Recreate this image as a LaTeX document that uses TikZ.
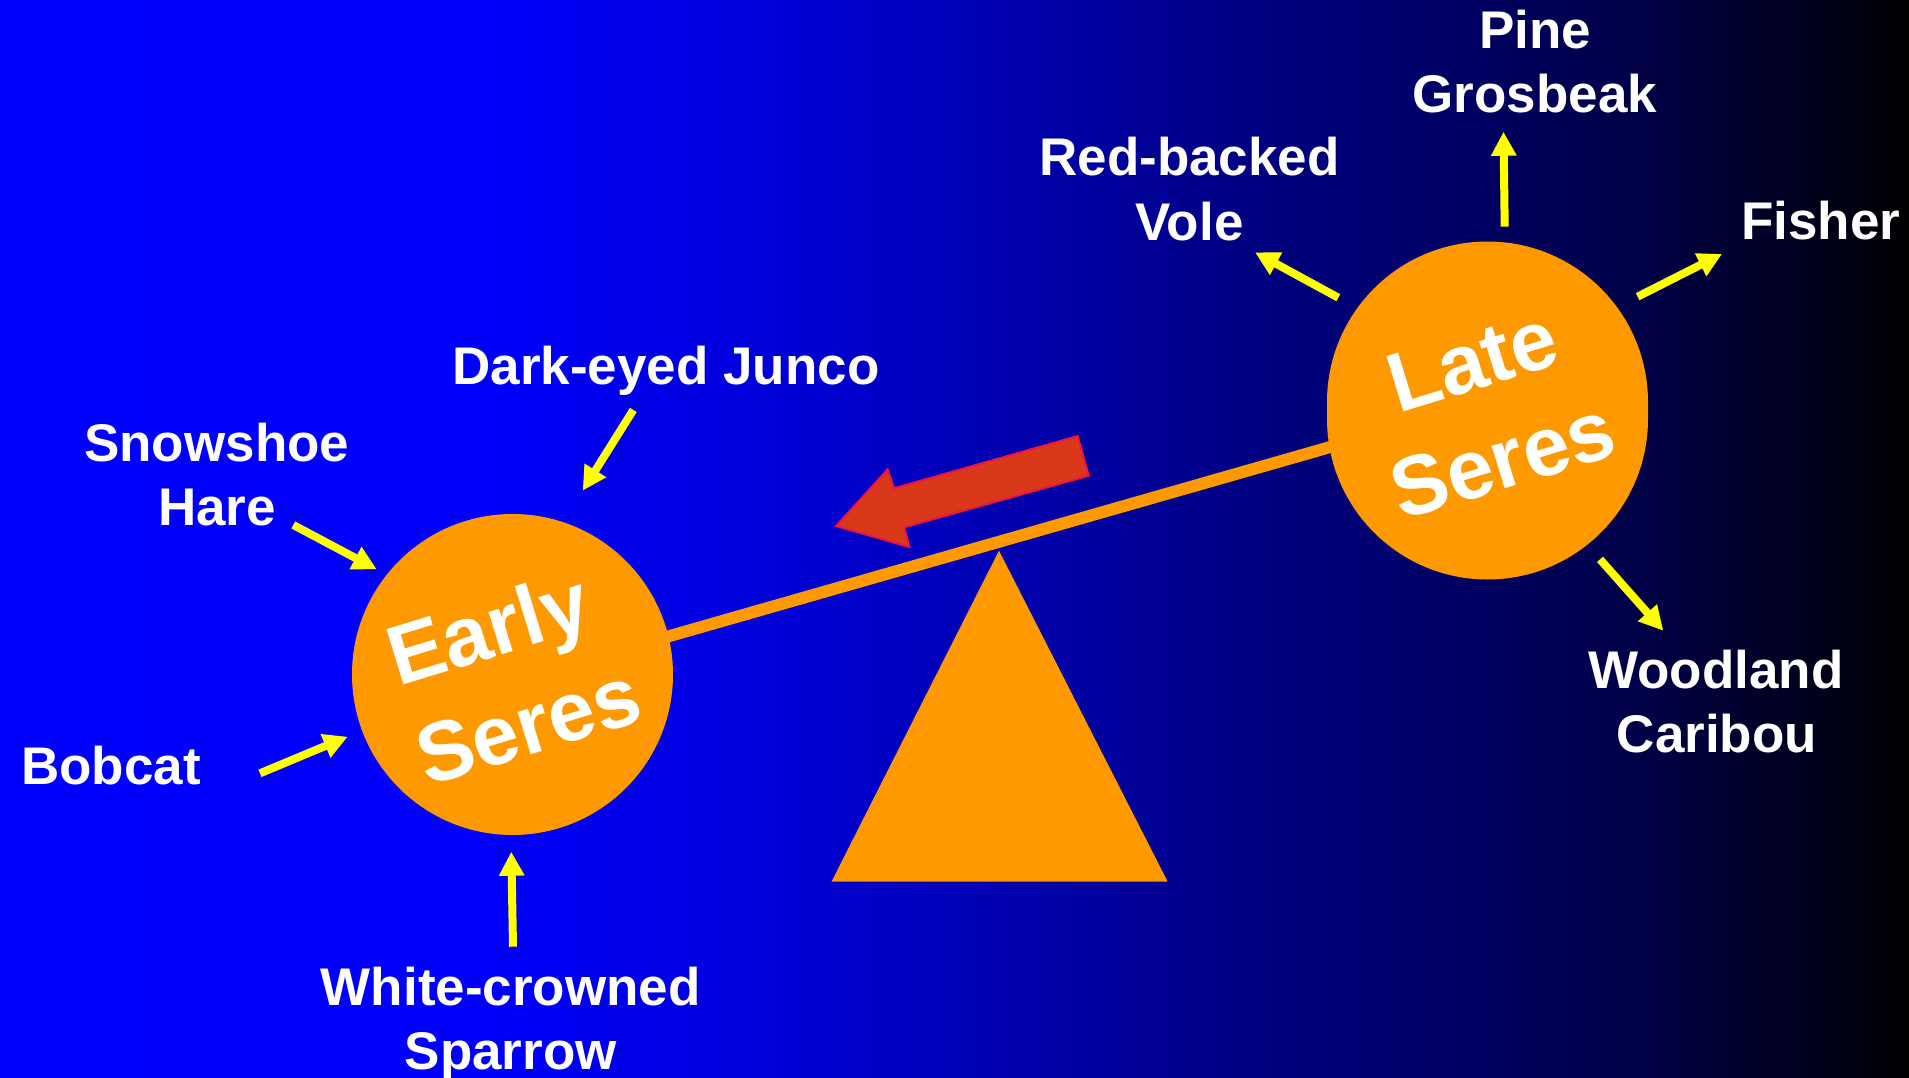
\documentclass[tikz,border=0pt]{standalone}
\usepackage{fontspec}
\setmainfont{Liberation Sans}
\usetikzlibrary{arrows.meta}
\pgfdeclarelayer{bg}
\pgfdeclarelayer{mid}
\pgfsetlayers{bg,mid,main}
\definecolor{seesaw}{RGB}{255,153,0}
\definecolor{pointer}{RGB}{255,255,0}
\definecolor{shiftfill}{RGB}{217,57,26}
\definecolor{shiftedge}{RGB}{240,20,60}
% blue-to-black sky, stops placed in the 25bp..75bp band that covers the path
\pgfdeclarehorizontalshading{skyfade}{100bp}{rgb(0bp)=(0,0,1); rgb(25bp)=(0,0,1); rgb(38bp)=(0,0,0.98); rgb(44.6bp)=(0,0,0.86); rgb(51.2bp)=(0,0,0.69); rgb(57.7bp)=(0,0,0.51); rgb(64.3bp)=(0,0,0.37); rgb(68.2bp)=(0,0,0.27); rgb(72.1bp)=(0,0,0.12); rgb(75bp)=(0,0,0); rgb(100bp)=(0,0,0)}

\begin{document}
\begin{tikzpicture}[x=1pt,y=-1pt,
  tag/.style={text=white, font=\bfseries\fontsize{53}{64}\selectfont, anchor=base, inner sep=0pt},
  sere/.style={text=white, font=\bfseries\fontsize{84}{104}\selectfont, align=center, rotate=17, inner sep=0pt},
  yarrow/.style={draw=pointer, line width=8pt, -{Triangle[width=24pt,length=24pt]}},
  beam/.style={draw=seesaw, line width=12pt},
]
\useasboundingbox (0,0) rectangle (1909,1078);
\begin{pgfonlayer}{bg}
  \shade[shading=skyfade] (0,0) rectangle (1909,1078);
\end{pgfonlayer}

% the two pans of the seesaw
\node[circle, fill=seesaw, minimum size=321pt, inner sep=0pt] (early) at (512.5,674.5) {};
\node[rectangle, rounded corners=160.5pt, fill=seesaw, minimum width=321pt, minimum height=338pt, inner sep=0pt] (late) at (1487.5,410.5) {};
\node[sere] (earlytext) at (early.center) {\hspace*{-20pt}Early\\Seres};
\node[sere] (latetext) at (late.center) {Late\\Seres};

% beam and fulcrum
\begin{pgfonlayer}{mid}
  \draw[beam] ([yshift=-6.5pt]early.center) -- ([yshift=8.5pt]late.center);
\end{pgfonlayer}
\fill[seesaw] (999,550.7) -- (1167.6,881.5) -- (831.6,881.5) -- cycle;

% block arrow showing the shift
\filldraw[fill=shiftfill, draw=shiftedge, line width=2pt, line join=miter]
  (1077.7,436) -- (1088.7,475.7) -- (904.3,527.3) -- (909.3,547) -- (836,526)
  -- (887.7,469.3) -- (894,488.3) -- cycle;

% species labels
\node[tag] (pine1) at (1535,48.5) {Pine};
\node[tag] (pine2) at (1535,113) {Grosbeak};
\node[tag] (vole1) at (1189.5,176) {Red-backed};
\node[tag] (vole2) at (1189.5,240.7) {Vole};
\node[tag] (fisher) at (1820.6,240) {Fisher};
\node[tag] (junco) at (666,384) {Dark-eyed Junco};
\node[tag] (hare1) at (216.7,461.7) {Snowshoe};
\node[tag] (hare2) at (217,525.7) {Hare};
\node[tag] (bobcat) at (111,784) {Bobcat};
\node[tag] (sparrow1) at (510.8,1005) {White-crowned};
\node[tag] (sparrow2) at (510.8,1069.5) {Sparrow};
\node[tag] (caribou1) at (1716,688.3) {Woodland};
\node[tag] (caribou2) at (1717,752.3) {Caribou};

% pointer ends
\coordinate (hareT) at (293.3,525);   \coordinate (hareH) at (376.7,569.3);
\coordinate (bobT) at (260,773.3);    \coordinate (bobH) at (347.7,736.7);
\coordinate (juncoT) at (633.3,410);  \coordinate (juncoH) at (582.7,490.7);
\coordinate (sparT) at (513,946.7);   \coordinate (sparH) at (511.3,851.7);
\coordinate (voleT) at (1338.3,297.7);\coordinate (voleH) at (1255,252.3);
\coordinate (pineT) at (1504.7,226.7);\coordinate (pineH) at (1503.5,131.7);
\coordinate (fishT) at (1637.6,296.7);\coordinate (fishH) at (1722,254);
\coordinate (cariT) at (1600,559.3);  \coordinate (cariH) at (1663.3,630.7);

\draw[yarrow] (hareT) -- (hareH);
\draw[yarrow] (bobT) -- (bobH);
\draw[yarrow] (juncoT) -- (juncoH);
\draw[yarrow] (sparT) -- (sparH);
\draw[yarrow] (voleT) -- (voleH);
\draw[yarrow] (pineT) -- (pineH);
\draw[yarrow] (fishT) -- (fishH);
\draw[yarrow] (cariT) -- (cariH);
\end{tikzpicture}
\end{document}
